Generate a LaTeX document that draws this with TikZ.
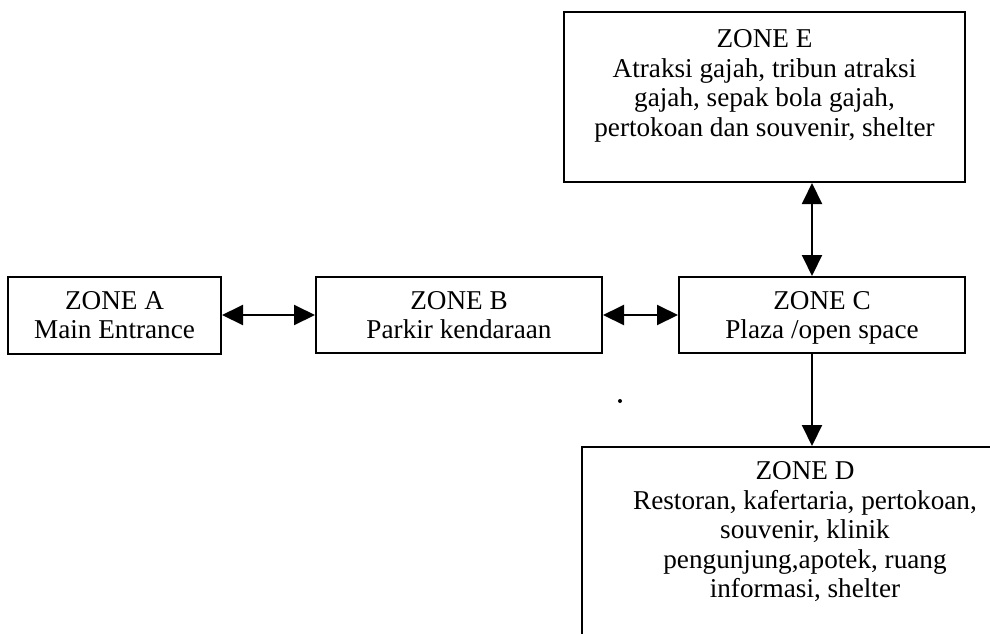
\documentclass[tikz,border=0pt]{standalone}
\usepackage{fontspec}
\setmainfont{Liberation Serif}
\usetikzlibrary{arrows.meta}
\begin{document}
\begin{tikzpicture}[x=0.5pt,y=-0.5pt,
  zfont/.style={font=\fontsize{13.6}{14.8}\selectfont},
  zbox/.style={draw, line width=1pt, inner sep=0pt, align=center, zfont},
  ztext/.style={inner sep=0pt, align=center, zfont},
  link/.style={{Triangle[length=10.5pt,width=10pt]}-{Triangle[length=10.5pt,width=10pt]}, line width=1pt},
  oneway/.style={-{Triangle[length=10.5pt,width=10pt]}, line width=1pt}]
\useasboundingbox (0,0) rectangle (990,633);
\clip (0,0) rectangle (990,633);
\fill[white] (0,0) rectangle (990,633);
% boxes
\node[zbox, minimum width=106.5pt, minimum height=38.5pt] (A) at (114.5,315) {ZONE A\\Main Entrance};
\node[zbox, minimum width=143pt, minimum height=38pt] (B) at (459,315) {ZONE B\\Parkir kendaraan};
\node[zbox, minimum width=143pt, minimum height=38pt] (C) at (822,315) {ZONE C\\Plaza /o\smash{p}en s\smash{p}ace};
\node[zbox, minimum width=200.5pt, minimum height=85pt] (E) at (764.5,97) {};
\node[ztext, anchor=north] (Et) at (764.5,29) {ZONE E\\Atraksi gajah, tribun atraksi\\gajah, sepak bola gajah,\\pertokoan dan souvenir, shelter};
\node[zbox, minimum width=214pt, minimum height=106.5pt] (D) at (796,553.5) {};
\node[ztext, anchor=north] (Dt) at (805,461) {ZONE D\\Restoran, kafertaria, pertokoan,\\souvenir, klinik\\pengunjung,apotek, ruang\\informasi, shelter};
% connectors
\coordinate (vx) at (812,0);
\draw[link] (A.east) -- (B.west);
\draw[link] (B.east) -- (C.west);
\draw[link] (C.north -| vx) -- (E.south -| vx);
\draw[oneway] (C.south -| vx) -- (D.north -| vx);
% stray dot
\fill (620,401) circle (1pt);
\end{tikzpicture}
\end{document}
